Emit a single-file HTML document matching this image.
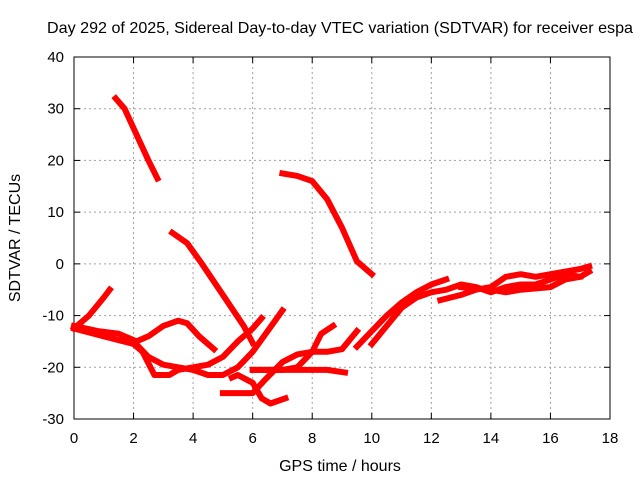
<!DOCTYPE html>
<html><head><meta charset="utf-8"><style>
body{margin:0;background:#fff}
svg{font-family:"Liberation Sans",sans-serif;}
</style></head><body>
<svg id="c" width="640" height="480">
<rect width="640" height="480" fill="#fff"/>
<text x="47" y="33" font-size="16" textLength="586" lengthAdjust="spacingAndGlyphs">Day 292 of 2025, Sidereal Day-to-day VTEC variation (SDTVAR) for receiver espa</text>
<g id="grid"></g>
<g id="axes"></g>
<g id="series"></g>
<text x="340" y="471" font-size="16" text-anchor="middle">GPS time / hours</text>
<text transform="translate(20,238) rotate(-90)" font-size="16" text-anchor="middle">SDTVAR / TECUs</text>
</svg>
<script>
const xTicks=[0,2,4,6,8,10,12,14,16,18];
const yTicks=[-30,-20,-10,0,10,20,30,40];
const tr1t=[0,0.5,1,1.2]; const tr1v=[-12.5,-10,-6.5,-5];
const tr2t=[1.4,1.7,2.1,2.5,2.8]; const tr2v=[32,30,25,20,16.5];
const tr3t=[0,0.8,1.5,2.1,2.5,3,3.5,3.8,4.2,4.7]; const tr3v=[-12,-13,-13.5,-15,-14,-12,-11,-11.5,-14,-16.5];
const tr4t=[0,1,2,2.3,2.7,3.2,3.5,4,4.5,5,5.5,6,6.3]; const tr4v=[-12.5,-14,-15.5,-17,-21.5,-21.5,-20.5,-20,-19.5,-18,-15,-12.5,-10.5];
const tr5t=[2,2.5,3,3.5,4,4.5,5,5.5,6,6.5,7]; const tr5v=[-15,-18,-19.5,-20,-20.5,-21.5,-21.5,-20,-17,-13,-9];
const tr6t=[3.3,3.8,4.3,5,5.7,6.0]; const tr6v=[6,4,0,-6,-12,-15.3];
const tr7t=[5,5.5,6,6.4,7,7.5,8,8.5,9,9.5]; const tr7v=[-25,-25,-25,-22.5,-19,-17.5,-17,-17,-16.5,-13];
const tr8t=[5.3,5.5,6,6.3,6.6,7.1]; const tr8v=[-22,-21.5,-23,-26,-27,-26];
const tr9t=[7,7.5,8,8.5,9,9.5,10]; const tr9v=[17.5,17,16,12.5,7,0.5,-2];
const tr10t=[6,6.5,7,7.5,8,8.3,8.7]; const tr10v=[-20.5,-20.5,-20.5,-20,-17,-13.5,-12];
const tr11t=[6,7,8,8.5,9.1]; const tr11v=[-20.5,-20.5,-20.5,-20.5,-21];
const tr12t=[9.5,10,10.5,11,11.5,12,12.5]; const tr12v=[-16,-13,-10,-7.5,-5.5,-4,-3];
const tr13t=[10,10.5,11,11.5,12,12.5,13,13.5,14,14.5,15,15.5,16,16.5,17,17.3]; const tr13v=[-15.5,-12,-8.5,-6.5,-5.5,-5,-4,-4.5,-5.5,-4.5,-4,-4,-3,-2,-2.5,-1.5];
const tr14t=[12.3,13,13.5,14,14.5,15,15.5,16,16.5,17,17.3]; const tr14v=[-7,-6,-5,-4.5,-2.5,-2,-2.5,-2,-1.5,-1,-0.5];
const tr15t=[13,14,14.5,15,16,16.5,17]; const tr15v=[-4.5,-5,-5.5,-5,-4.5,-3,-2.5];
const tracks=[[tr1t,tr1v],[tr2t,tr2v],[tr3t,tr3v],[tr4t,tr4v],[tr5t,tr5v],[tr6t,tr6v],[tr7t,tr7v],[tr8t,tr8v],[tr9t,tr9v],[tr10t,tr10v],[tr11t,tr11v],[tr12t,tr12v],[tr13t,tr13v],[tr14t,tr14v],[tr15t,tr15v]];
const X0=74,X1=610,Y0=419,Y1=57;
function sx(t){return X0+(t-0)/(18-0)*(X1-X0);}
function sy(v){return Y0-(v+30)/70*(Y0-Y1);}
const NS='http://www.w3.org/2000/svg';
function mk(tag,attrs,parent){const e=document.createElementNS(NS,tag);for(const k in attrs)e.setAttribute(k,attrs[k]);parent.appendChild(e);return e;}
const grid=document.getElementById('grid'),axes=document.getElementById('axes'),series=document.getElementById('series');
xTicks.forEach(t=>{
  const x=sx(t);
  if(t>0&&t<18){const g=mk('line',{x1:x,x2:x,y1:Y1,y2:Y0,stroke:'#a0a0a0','stroke-dasharray':'2,3'},grid);
  
  }
  mk('line',{x1:x,x2:x,y1:Y0,y2:Y0-6,stroke:'#000'},axes);
  mk('line',{x1:x,x2:x,y1:Y1,y2:Y1+6,stroke:'#000'},axes);
  const l=mk('text',{x:x,y:Y0+24,'font-size':15,'text-anchor':'middle'},axes);l.textContent=t;
  
  
});
yTicks.forEach(v=>{
  const y=sy(v);
  if(v>-30&&v<40){const g=mk('line',{x1:X0,x2:X1,y1:y,y2:y,stroke:'#a0a0a0','stroke-dasharray':'2,3'},grid);
  
  }
  mk('line',{x1:X0,x2:X0+6,y1:y,y2:y,stroke:'#000'},axes);
  mk('line',{x1:X1,x2:X1-6,y1:y,y2:y,stroke:'#000'},axes);
  const l=mk('text',{x:X0-10,y:y+5,'font-size':15,'text-anchor':'end'},axes);l.textContent=v;
  
  
});
mk('rect',{x:X0,y:Y1,width:X1-X0,height:Y0-Y1,fill:'none',stroke:'#000'},axes);
tracks.forEach(([ts,vs],i)=>{
  const pts=ts.map((t,j)=>sx(t).toFixed(1)+','+sy(vs[j]).toFixed(1)).join(' ');
  const p=mk('polyline',{points:pts,fill:'none',stroke:'#ff0000','stroke-width':6,'stroke-linejoin':'round','stroke-linecap':'square'},series);
  
  
});
</script>
</body></html>
